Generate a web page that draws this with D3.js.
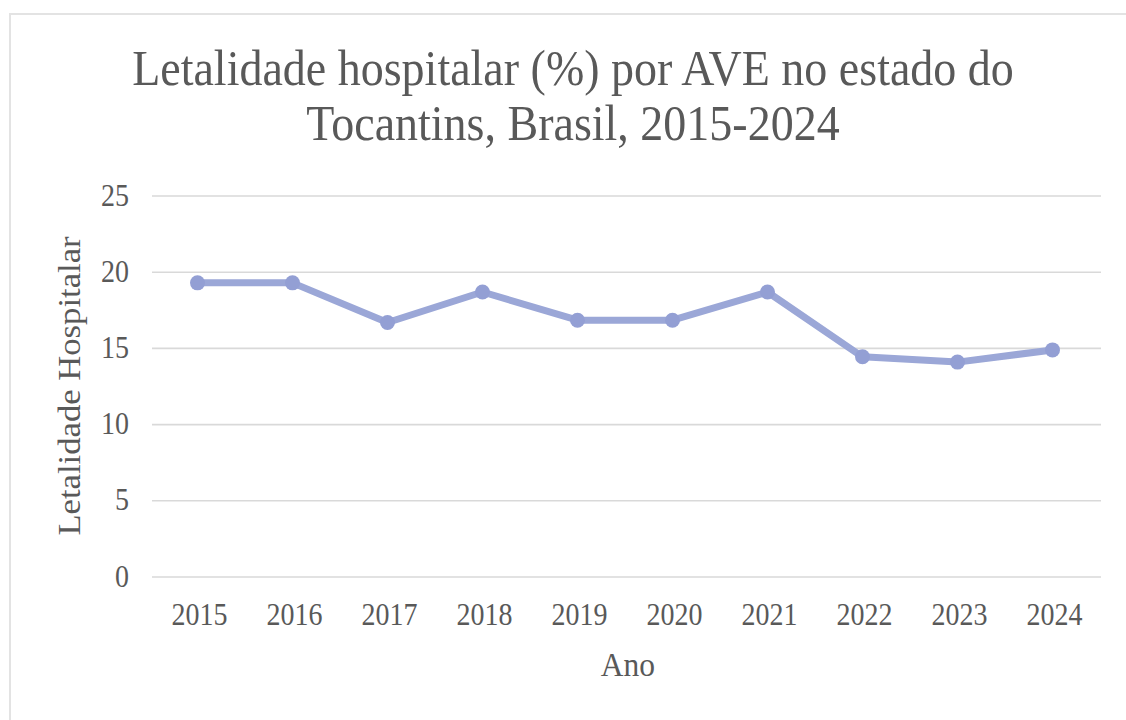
<!DOCTYPE html>
<html>
<head>
<meta charset="utf-8">
<script src="https://cdn.jsdelivr.net/npm/d3@7"></script>
<style>
  html, body { margin: 0; padding: 0; background: #fff; }
  svg { display: block; }
  text { font-family: "Liberation Serif", "Times New Roman", serif; fill: #595959; }
</style>
</head>
<body>
<svg id="chart" width="1126" height="720"></svg>
<script>
const years = ["2015","2016","2017","2018","2019","2020","2021","2022","2023","2024"];
const letalidade = [19.3, 19.3, 16.7, 18.7, 16.85, 16.85, 18.7, 14.45, 14.1, 14.9];
const yTicks = [0, 5, 10, 15, 20, 25];
const titleLines = ["Letalidade hospitalar (%) por AVE no estado do", "Tocantins, Brasil, 2015-2024"];
const yTitle = "Letalidade Hospitalar";
const xTitle = "Ano";

const svg = d3.select("#chart");
const SY = 1.1;

// outer border
svg.append("rect").attr("x", 10).attr("y", 14).attr("width", 1130).attr("height", 720)
  .attr("fill", "none").attr("stroke", "#e3e3e3").attr("stroke-width", 2);

const x = d3.scaleBand().domain(years).range([150, 1100]).padding(0);
const y = d3.scaleLinear().domain([0, 25]).range([577, 196]);

// gridlines
svg.append("g").selectAll("line").data(yTicks).join("line")
  .attr("x1", 152).attr("x2", 1101)
  .attr("y1", d => y(d)).attr("y2", d => y(d))
  .attr("stroke", "#d9d9d9").attr("stroke-width", 1.6);

// y tick labels
svg.append("g").selectAll("text").data(yTicks).join("text")
  .attr("transform", d => `translate(129,${y(d) + 9.5}) scale(1,${SY})`)
  .attr("text-anchor", "end").attr("font-size", 28).text(d => d);

// x tick labels
svg.append("g").selectAll("text").data(years).join("text")
  .attr("transform", d => `translate(${x(d) + x.bandwidth() / 2 + 2},625) scale(1,${SY})`)
  .attr("text-anchor", "middle").attr("font-size", 28).text(d => d);

// line
const line = d3.line().x((d, i) => x(years[i]) + x.bandwidth() / 2).y(d => y(d));
svg.append("path").datum(letalidade).attr("d", line)
  .attr("fill", "none").attr("stroke", "#9ba7d7").attr("stroke-width", 7)
  .attr("stroke-linejoin", "round").attr("stroke-linecap", "round");

svg.append("g").selectAll("circle").data(letalidade).join("circle")
  .attr("cx", (d, i) => x(years[i]) + x.bandwidth() / 2).attr("cy", d => y(d))
  .attr("r", 7.5).attr("fill", "#939fd4");

// title
svg.append("g").selectAll("text").data(titleLines).join("text")
  .attr("transform", (d, i) => `translate(573,${85 + i * 55}) scale(1,${SY})`)
  .attr("text-anchor", "middle").attr("font-size", 46).text(d => d);

// axis titles
svg.append("text")
  .attr("transform", `translate(80,386) rotate(-90) scale(${SY},1)`)
  .attr("text-anchor", "middle").attr("font-size", 31.5).text(yTitle);

svg.append("text")
  .attr("transform", `translate(628,676) scale(1,${SY})`)
  .attr("text-anchor", "middle").attr("font-size", 31.5).text(xTitle);
</script>
</body>
</html>
